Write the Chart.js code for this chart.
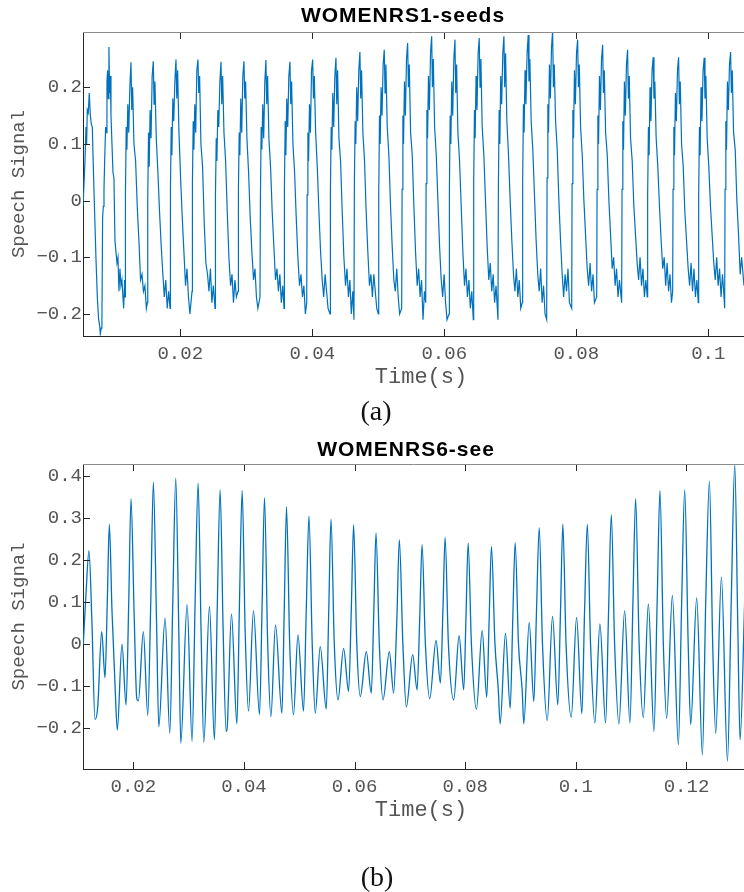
<!DOCTYPE html>
<html>
<head>
<meta charset="utf-8">
<script src="https://cdn.jsdelivr.net/npm/chart.js@4.4.1/dist/chart.umd.min.js"></script>
<style>
  body { margin: 0; background: #fff; }
  #page { position: relative; width: 744px; height: 892px; overflow: hidden; }
  canvas { position: absolute; left: 0; }
  #chartA { top: 0; }
  #chartB { top: 420px; }
  .caption { position: absolute; font-family: "Liberation Serif", "DejaVu Serif", serif; font-size: 28px; color: #111; transform: translate(-50%, -50%); }
</style>
</head>
<body>
<div id="page">
  <canvas id="chartA" width="744" height="420"></canvas>
  <canvas id="chartB" width="744" height="472"></canvas>
  <div class="caption" style="left:376px; top:411px;">(a)</div>
  <div class="caption" style="left:377px; top:877px;">(b)</div>
</div>
<script>
// WOMENRS1-seeds: time (s) and signal samples
const timeA = [
  0.00527, 0.00556, 0.00571, 0.00581, 0.00591, 0.00606, 0.00621, 0.00637, 0.00652, 0.00667, 0.00682, 0.00702, 0.00722, 0.00743, 0.00763, 0.00778, 0.00788, 0.00803, 0.00813,
  0.00823, 0.00834, 0.00844, 0.00854, 0.00869, 0.00879, 0.00889, 0.00899, 0.00909, 0.00919, 0.00929, 0.0094, 0.0095, 0.00965, 0.0098, 0.00995, 0.0101, 0.01025, 0.01041, 0.01056, 0.01071, 0.01086, 0.01101, 0.01116, 0.01131, 0.01142, 0.01157,
  0.01163, 0.01169, 0.01181, 0.01191, 0.01205, 0.01219, 0.01236, 0.01253, 0.01265, 0.01278, 0.01298, 0.01323, 0.01348, 0.01373, 0.01398, 0.0142, 0.01442, 0.01464, 0.01486,
  0.01501, 0.01507, 0.01519, 0.01529, 0.01543, 0.01557, 0.01574, 0.01591, 0.01603, 0.01616, 0.01636, 0.01661, 0.01686, 0.01711, 0.01736, 0.01758, 0.0178, 0.01802, 0.01824,
  0.01845, 0.01851, 0.01863, 0.01873, 0.01887, 0.01901, 0.01918, 0.01935, 0.01947, 0.0196, 0.0198, 0.02005, 0.0203, 0.02055, 0.0208, 0.02102, 0.02124, 0.02146,
  0.02178, 0.02184, 0.02196, 0.02206, 0.0222, 0.02234, 0.02251, 0.02268, 0.0228, 0.02293, 0.02313, 0.02338, 0.02363, 0.02388, 0.02413, 0.02435, 0.02457, 0.02479, 0.02501,
  0.02527, 0.02533, 0.02545, 0.02555, 0.02569, 0.02583, 0.026, 0.02617, 0.02629, 0.02642, 0.02662, 0.02687, 0.02712, 0.02737, 0.02762, 0.02784, 0.02806, 0.02828, 0.0285,
  0.02875, 0.02881, 0.02893, 0.02903, 0.02917, 0.02931, 0.02948, 0.02965, 0.02977, 0.0299, 0.0301, 0.03035, 0.0306, 0.03085, 0.0311, 0.03132, 0.03154, 0.03176,
  0.03208, 0.03214, 0.03226, 0.03236, 0.0325, 0.03264, 0.03281, 0.03298, 0.0331, 0.03323, 0.03343, 0.03368, 0.03393, 0.03418, 0.03443, 0.03465, 0.03487, 0.03509, 0.03531, 0.03553,
  0.03572, 0.03578, 0.0359, 0.036, 0.03614, 0.03628, 0.03645, 0.03662, 0.03674, 0.03687, 0.03707, 0.03732, 0.03757, 0.03782, 0.03807, 0.03829, 0.03851, 0.03873, 0.03895,
  0.03916, 0.03922, 0.03934, 0.03944, 0.03958, 0.03972, 0.03989, 0.04006, 0.04018, 0.04031, 0.04051, 0.04076, 0.04101, 0.04126, 0.04151, 0.04173, 0.04195, 0.04217, 0.04239,
  0.04269, 0.04275, 0.04287, 0.04297, 0.04311, 0.04325, 0.04342, 0.04359, 0.04371, 0.04384, 0.04404, 0.04429, 0.04454, 0.04479, 0.04504, 0.04526, 0.04548, 0.0457, 0.04592, 0.04614,
  0.04632, 0.04638, 0.0465, 0.0466, 0.04674, 0.04688, 0.04705, 0.04722, 0.04734, 0.04747, 0.04767, 0.04792, 0.04817, 0.04842, 0.04867, 0.04889, 0.04911, 0.04933, 0.04955, 0.04977,
  0.05001, 0.05007, 0.05019, 0.05029, 0.05043, 0.05057, 0.05074, 0.05091, 0.05103, 0.05116, 0.05136, 0.05161, 0.05186, 0.05211, 0.05236, 0.05258, 0.0528, 0.05302, 0.05324,
  0.05355, 0.05361, 0.05373, 0.05383, 0.05397, 0.05411, 0.05428, 0.05445, 0.05457, 0.0547, 0.0549, 0.05515, 0.0554, 0.05565, 0.0559, 0.05612, 0.05634, 0.05656, 0.05678, 0.057,
  0.05719, 0.05725, 0.05737, 0.05747, 0.05761, 0.05775, 0.05792, 0.05809, 0.05821, 0.05834, 0.05854, 0.05879, 0.05904, 0.05929, 0.05954, 0.05976, 0.05998, 0.0602, 0.06042,
  0.06072, 0.06078, 0.0609, 0.061, 0.06114, 0.06128, 0.06145, 0.06162, 0.06174, 0.06187, 0.06207, 0.06232, 0.06257, 0.06282, 0.06307, 0.06329, 0.06351, 0.06373, 0.06395, 0.06417,
  0.0644, 0.06446, 0.06458, 0.06468, 0.06482, 0.06496, 0.06513, 0.0653, 0.06542, 0.06555, 0.06575, 0.066, 0.06625, 0.0665, 0.06675, 0.06697, 0.06719, 0.06741, 0.06763, 0.06785,
  0.06814, 0.0682, 0.06832, 0.06842, 0.06856, 0.0687, 0.06887, 0.06904, 0.06916, 0.06929, 0.06949, 0.06974, 0.06999, 0.07024, 0.07049, 0.07071, 0.07093, 0.07115, 0.07137, 0.07159,
  0.07182, 0.07188, 0.072, 0.0721, 0.07224, 0.07238, 0.07255, 0.07272, 0.07284, 0.07297, 0.07317, 0.07342, 0.07367, 0.07392, 0.07417, 0.07439, 0.07461, 0.07483, 0.07505, 0.07527,
  0.07552, 0.07558, 0.0757, 0.0758, 0.07594, 0.07608, 0.07625, 0.07642, 0.07654, 0.07667, 0.07687, 0.07712, 0.07737, 0.07762, 0.07787, 0.07809, 0.07831, 0.07853, 0.07875, 0.07897,
  0.07931, 0.07937, 0.07949, 0.07959, 0.07973, 0.07987, 0.08004, 0.08021, 0.08033, 0.08046, 0.08066, 0.08091, 0.08116, 0.08141, 0.08166, 0.08188, 0.0821, 0.08232, 0.08254, 0.08276,
  0.0831, 0.08316, 0.08328, 0.08338, 0.08352, 0.08366, 0.08383, 0.084, 0.08412, 0.08425, 0.08445, 0.0847, 0.08495, 0.0852, 0.08545, 0.08567, 0.08589, 0.08611, 0.08633, 0.08655,
  0.08688, 0.08694, 0.08706, 0.08716, 0.0873, 0.08744, 0.08761, 0.08778, 0.0879, 0.08803, 0.08823, 0.08848, 0.08873, 0.08898, 0.08923, 0.08945, 0.08967, 0.08989, 0.09011, 0.09033, 0.09055,
  0.09076, 0.09082, 0.09094, 0.09104, 0.09118, 0.09132, 0.09149, 0.09166, 0.09178, 0.09191, 0.09211, 0.09236, 0.09261, 0.09286, 0.09311, 0.09333, 0.09355, 0.09377, 0.09399, 0.09421, 0.09443,
  0.09461, 0.09467, 0.09479, 0.09489, 0.09503, 0.09517, 0.09534, 0.09551, 0.09563, 0.09576, 0.09596, 0.09621, 0.09646, 0.09671, 0.09696, 0.09718, 0.0974, 0.09762, 0.09784, 0.09806, 0.09828,
  0.09849, 0.09855, 0.09867, 0.09877, 0.09891, 0.09905, 0.09922, 0.09939, 0.09951, 0.09964, 0.09984, 0.10009, 0.10034, 0.10059, 0.10084, 0.10106, 0.10128, 0.1015, 0.10172, 0.10194, 0.10216, 0.10234,
  0.10249, 0.10255, 0.10267, 0.10277, 0.10291, 0.10305, 0.10322, 0.10339, 0.10351, 0.10364, 0.10384, 0.10409, 0.10434, 0.10459, 0.10484, 0.10506, 0.10542
];
const speechA = [
  -0.01, 0.07, 0.13, 0.10, 0.16, 0.155, 0.19, 0.15, 0.135, 0.13, 0.06, -0.02, -0.10, -0.17, -0.21, -0.22, -0.235, -0.225, -0.21,
  -0.03, -0.01, 0.02, 0.07, 0.13, 0.12, 0.21, 0.23, 0.18, 0.271, 0.19, 0.22, 0.15, 0.10, 0.05, 0.04, -0.07, -0.09, -0.11, -0.10, -0.16, -0.12, -0.15, -0.14, -0.17, -0.19, -0.14,
  -0.17, 0.01, 0.13, 0.09, 0.17, 0.12, 0.20, 0.244, 0.16, 0.20, 0.10, 0.07, -0.01, -0.07, -0.14, -0.13, -0.16, -0.15, -0.19,
  -0.18, 0.00, 0.12, 0.06, 0.16, 0.11, 0.22, 0.246, 0.17, 0.21, 0.11, 0.05, -0.02, -0.08, -0.13, -0.17, -0.14, -0.19, -0.16,
  -0.19, 0.02, 0.13, 0.08, 0.18, 0.14, 0.21, 0.249, 0.18, 0.23, 0.12, 0.04, -0.03, -0.09, -0.15, -0.12, -0.17, -0.20,
  -0.16, 0.03, 0.14, 0.09, 0.17, 0.12, 0.23, 0.249, 0.19, 0.22, 0.10, 0.06, -0.04, -0.11, -0.13, -0.16, -0.12, -0.18, -0.15,
  -0.19, 0.01, 0.11, 0.07, 0.16, 0.13, 0.21, 0.245, 0.17, 0.22, 0.12, 0.07, -0.02, -0.10, -0.15, -0.13, -0.18, -0.14, -0.17,
  -0.16, 0.02, 0.12, 0.08, 0.18, 0.12, 0.22, 0.246, 0.18, 0.21, 0.11, 0.05, -0.03, -0.09, -0.14, -0.12, -0.17, -0.19,
  -0.17, 0.00, 0.13, 0.09, 0.17, 0.11, 0.21, 0.248, 0.17, 0.22, 0.11, 0.06, -0.02, -0.08, -0.14, -0.12, -0.16, -0.13, -0.18, -0.15,
  -0.19, 0.02, 0.14, 0.08, 0.18, 0.13, 0.22, 0.245, 0.17, 0.21, 0.10, 0.05, -0.03, -0.10, -0.15, -0.13, -0.17, -0.15, -0.20,
  -0.18, 0.01, 0.12, 0.07, 0.17, 0.12, 0.23, 0.249, 0.18, 0.22, 0.12, 0.06, -0.02, -0.09, -0.14, -0.17, -0.13, -0.16, -0.19,
  -0.20, 0.02, 0.13, 0.09, 0.19, 0.13, 0.22, 0.252, 0.17, 0.23, 0.11, 0.07, -0.02, -0.10, -0.15, -0.12, -0.17, -0.14, -0.20, -0.16,
  -0.21, 0.03, 0.14, 0.10, 0.20, 0.14, 0.23, 0.262, 0.18, 0.23, 0.12, 0.07, -0.02, -0.09, -0.15, -0.13, -0.17, -0.13, -0.16, -0.19,
  -0.20, 0.01, 0.15, 0.10, 0.20, 0.15, 0.24, 0.266, 0.19, 0.24, 0.13, 0.08, -0.01, -0.08, -0.14, -0.16, -0.12, -0.17, -0.20,
  -0.19, 0.02, 0.15, 0.10, 0.21, 0.15, 0.25, 0.278, 0.20, 0.24, 0.12, 0.08, -0.01, -0.09, -0.15, -0.12, -0.17, -0.14, -0.21, -0.16,
  -0.18, 0.03, 0.16, 0.11, 0.22, 0.16, 0.26, 0.290, 0.20, 0.25, 0.13, 0.08, 0.00, -0.08, -0.14, -0.17, -0.13, -0.18, -0.21,
  -0.20, 0.02, 0.15, 0.10, 0.21, 0.15, 0.25, 0.284, 0.19, 0.24, 0.12, 0.07, -0.01, -0.09, -0.15, -0.12, -0.17, -0.14, -0.19, -0.16,
  -0.21, 0.03, 0.16, 0.11, 0.22, 0.16, 0.26, 0.287, 0.20, 0.25, 0.13, 0.08, 0.00, -0.08, -0.14, -0.11, -0.16, -0.13, -0.18, -0.15,
  -0.21, 0.02, 0.16, 0.10, 0.22, 0.17, 0.26, 0.290, 0.20, 0.26, 0.14, 0.08, 0.00, -0.07, -0.13, -0.16, -0.12, -0.17, -0.14, -0.19,
  -0.18, 0.03, 0.17, 0.12, 0.23, 0.17, 0.26, 0.292, 0.21, 0.25, 0.14, 0.09, 0.01, -0.07, -0.13, -0.16, -0.12, -0.18, -0.15, -0.20,
  -0.21, 0.04, 0.17, 0.12, 0.24, 0.18, 0.27, 0.299, 0.20, 0.24, 0.14, 0.09, 0.00, -0.07, -0.13, -0.17, -0.13, -0.16, -0.12, -0.18,
  -0.19, 0.03, 0.16, 0.11, 0.23, 0.17, 0.26, 0.284, 0.20, 0.24, 0.13, 0.08, 0.00, -0.06, -0.12, -0.15, -0.11, -0.16, -0.13, -0.18,
  -0.17, 0.02, 0.15, 0.10, 0.22, 0.16, 0.25, 0.275, 0.19, 0.23, 0.12, 0.08, 0.00, -0.06, -0.12, -0.10, -0.15, -0.12, -0.17, -0.14,
  -0.18, 0.02, 0.14, 0.09, 0.21, 0.15, 0.24, 0.266, 0.18, 0.22, 0.11, 0.07, -0.01, -0.06, -0.11, -0.14, -0.10, -0.15, -0.12, -0.17, -0.14,
  -0.17, 0.01, 0.13, 0.08, 0.20, 0.14, 0.23, 0.253, 0.18, 0.21, 0.11, 0.06, -0.01, -0.07, -0.12, -0.10, -0.15, -0.11, -0.16, -0.13, -0.18,
  -0.16, 0.02, 0.13, 0.08, 0.19, 0.14, 0.23, 0.253, 0.17, 0.21, 0.10, 0.06, -0.02, -0.07, -0.12, -0.15, -0.11, -0.16, -0.12, -0.17, -0.14,
  -0.18, 0.01, 0.13, 0.08, 0.20, 0.14, 0.23, 0.252, 0.18, 0.22, 0.11, 0.06, -0.01, -0.06, -0.11, -0.14, -0.10, -0.15, -0.12, -0.17, -0.13, -0.16,
  -0.19, 0.02, 0.14, 0.09, 0.21, 0.16, 0.24, 0.262, 0.19, 0.23, 0.12, 0.09, 0.00, -0.06, -0.13, -0.10, -0.15
];

// WOMENRS6-see: time (s) and signal samples
const timeB = [
  0.01095, 0.01144, 0.01198, 0.01252, 0.01307, 0.01356, 0.01428, 0.01488,
  0.01529, 0.01566, 0.01614, 0.01669, 0.0171, 0.01795, 0.01868,
  0.01917, 0.01958, 0.02013, 0.02062, 0.02091, 0.02181, 0.02261,
  0.02315, 0.02362, 0.0242, 0.0246, 0.02574, 0.02659,
  0.02713, 0.02767, 0.02822, 0.02858, 0.02972, 0.03062,
  0.03117, 0.03171, 0.03225, 0.03274, 0.03376, 0.03466,
  0.03519, 0.03569, 0.03624, 0.03678, 0.03696, 0.03774, 0.03872,
  0.03919, 0.03967, 0.04022, 0.04082, 0.04172, 0.04281,
  0.04329, 0.04371, 0.04429, 0.04487, 0.0457, 0.04686,
  0.04728, 0.04769, 0.04827, 0.04896, 0.04976, 0.05077,
  0.05126, 0.05175, 0.05234, 0.05289, 0.05379, 0.05488,
  0.05533, 0.05573, 0.05633, 0.057, 0.05801, 0.05892,
  0.0594, 0.05982, 0.0604, 0.06103, 0.06212, 0.06302,
  0.06348, 0.06387, 0.06447, 0.06514, 0.06628, 0.06706,
  0.06764, 0.06809, 0.06873, 0.06936, 0.0705, 0.0713,
  0.07177, 0.0722, 0.0728, 0.07358, 0.07473, 0.07551,
  0.07597, 0.07636, 0.07696, 0.07792, 0.0789, 0.07973,
  0.08013, 0.08053, 0.08112, 0.08203, 0.08306, 0.08389,
  0.08433, 0.08474, 0.08538, 0.08596, 0.08632, 0.08728, 0.08813,
  0.0886, 0.08903, 0.08963, 0.0903, 0.09059, 0.09157, 0.0924,
  0.09289, 0.09338, 0.09397, 0.09483, 0.09578, 0.09674,
  0.09723, 0.09765, 0.09823, 0.09917, 0.10013, 0.10109,
  0.10158, 0.10207, 0.10266, 0.10344, 0.10435, 0.10538,
  0.10592, 0.10641, 0.10701, 0.10779, 0.10882, 0.10978,
  0.11032, 0.11081, 0.11144, 0.1122, 0.11311, 0.11412,
  0.1147, 0.11521, 0.11582, 0.11642, 0.11745, 0.11854,
  0.11913, 0.11968, 0.12031, 0.12076, 0.12185, 0.12288,
  0.12348, 0.12415, 0.12474, 0.12529, 0.12632, 0.12741,
  0.12809, 0.12873, 0.12927, 0.12969, 0.13054
];
const speechB = [
  0.0, 0.12, 0.223, 0.05, -0.18, -0.15, 0.03, -0.08,
  0.1, 0.286, 0.08, -0.097, -0.205, 0.0, -0.145,
  0.1, 0.347, 0.08, -0.13, -0.135, 0.03, -0.17,
  0.1, 0.386, 0.05, -0.197, 0.062, -0.213,
  0.1, 0.395, 0.03, -0.236, 0.094, -0.232,
  0.1, 0.384, 0.03, -0.234, 0.09, -0.228,
  0.1, 0.367, 0.03, -0.208, -0.2, 0.072, -0.19,
  0.1, 0.366, 0.03, -0.16, 0.08, -0.168,
  0.1, 0.349, 0.0, -0.173, 0.046, -0.165,
  0.08, 0.327, 0.0, -0.168, 0.022, -0.16,
  0.08, 0.305, 0.0, -0.165, -0.006, -0.155,
  0.08, 0.298, 0.0, -0.133, -0.01, -0.113,
  0.08, 0.285, 0.0, -0.125, -0.018, -0.117,
  0.08, 0.265, 0.0, -0.133, -0.018, -0.117,
  0.06, 0.249, 0.0, -0.15, -0.025, -0.109,
  0.06, 0.237, 0.0, -0.13, 0.009, -0.093,
  0.08, 0.255, 0.0, -0.133, 0.02, -0.109,
  0.06, 0.241, 0.0, -0.155, 0.032, -0.127,
  0.06, 0.233, 0.0, -0.105, -0.19, 0.026, -0.153,
  0.06, 0.242, 0.0, -0.11, -0.19, 0.052, -0.137,
  0.08, 0.278, 0.0, -0.182, 0.066, -0.145,
  0.08, 0.286, 0.0, -0.174, 0.064, -0.166,
  0.08, 0.286, 0.0, -0.188, 0.048, -0.188,
  0.08, 0.309, 0.0, -0.19, 0.08, -0.188,
  0.1, 0.347, 0.0, -0.175, 0.096, -0.208,
  0.1, 0.366, 0.0, -0.177, 0.116, -0.24,
  0.1, 0.368, 0.0, -0.192, 0.11, -0.264,
  0.1, 0.388, 0.0, -0.213, 0.16, -0.279,
  0.1, 0.428, 0.05, -0.228, 0.11
];

const xTicksA = [0.02, 0.04, 0.06, 0.08, 0.1];
const xTickLabelsA = ['0.02', '0.04', '0.06', '0.08', '0.1'];
const yTicksA = [-0.2, -0.1, 0, 0.1, 0.2];
const yTickLabelsA = ['\u22120.2', '\u22120.1', '0', '0.1', '0.2'];

const xTicksB = [0.02, 0.04, 0.06, 0.08, 0.1, 0.12];
const xTickLabelsB = ['0.02', '0.04', '0.06', '0.08', '0.1', '0.12'];
const yTicksB = [-0.2, -0.1, 0, 0.1, 0.2, 0.3, 0.4];
const yTickLabelsB = ['\u22120.2', '\u22120.1', '0', '0.1', '0.2', '0.3', '0.4'];

const LINE_BLUE = '#0072BD';
const AXIS_GREY = '#262626';
const LABEL_GREY = '#555555';
const MONO = '"Liberation Mono", "DejaVu Sans Mono", monospace';

// inward tick marks, top edge of the box, bold panel title and the x label
const boxAndTitle = {
  id: 'boxAndTitle',
  afterDatasetsDraw(chart, args, opts) {
    const {ctx, chartArea: a, scales: {x, y}} = chart;
    ctx.save();
    ctx.lineWidth = 1;
    ctx.strokeStyle = AXIS_GREY;
    ctx.beginPath();
    x.ticks.forEach(t => {
      const px = Math.round(x.getPixelForValue(t.value)) + 0.5;
      ctx.moveTo(px, a.bottom);
      ctx.lineTo(px, a.bottom - 7);
      ctx.moveTo(px, a.top);
      ctx.lineTo(px, a.top + 7);
    });
    y.ticks.forEach(t => {
      const py = Math.round(y.getPixelForValue(t.value)) + 0.5;
      ctx.moveTo(a.left, py);
      ctx.lineTo(a.left + 7, py);
    });
    ctx.stroke();
    ctx.strokeStyle = '#8a8a8a';
    ctx.beginPath();
    ctx.moveTo(a.left, Math.round(a.top) + 0.5);
    ctx.lineTo(a.right, Math.round(a.top) + 0.5);
    ctx.stroke();

    ctx.textAlign = 'center';
    ctx.textBaseline = 'middle';
    ctx.fillStyle = '#000';
    ctx.font = 'bold 21px "Liberation Sans", Arial, sans-serif';
    ctx.letterSpacing = '1px';
    ctx.fillText(opts.text, opts.x, opts.y);
    ctx.letterSpacing = '0px';

    ctx.fillStyle = LABEL_GREY;
    ctx.font = '22px ' + MONO;
    ctx.fillText('Time(s)', opts.xLabelX, opts.xLabelY);
    ctx.restore();
  }
};

function makeChart(id, times, values, cfg) {
  const points = times.map((t, i) => ({x: t, y: values[i]}));
  return new Chart(document.getElementById(id), {
    type: 'line',
    data: {
      datasets: [{
        data: points,
        borderColor: LINE_BLUE,
        borderWidth: cfg.lineWidth,
        pointRadius: 0,
        tension: cfg.smooth ? 0.4 : 0,
        cubicInterpolationMode: cfg.smooth ? 'monotone' : 'default',
        fill: false
      }]
    },
    options: {
      responsive: false,
      animation: false,
      devicePixelRatio: 1,
      layout: {padding: {top: cfg.top, left: 0, right: 0, bottom: 0}},
      plugins: {
        legend: {display: false},
        tooltip: {enabled: false},
        boxAndTitle: {
          text: cfg.title, x: cfg.titleX, y: cfg.titleY,
          xLabelX: 421, xLabelY: cfg.xLabelY
        }
      },
      scales: {
        x: {
          type: 'linear',
          min: cfg.xMin,
          max: cfg.xMax,
          afterBuildTicks: s => { s.ticks = cfg.xTicks.map(v => ({value: v})); },
          afterFit: s => { s.height = cfg.xAxisHeight; },
          grid: {display: false, drawTicks: false},
          border: {display: true, color: AXIS_GREY, width: 1},
          ticks: {
            autoSkip: false,
            maxRotation: 0,
            padding: cfg.xTickPad,
            color: LABEL_GREY,
            font: {family: MONO, size: 19},
            callback: (v, i) => cfg.xLabels[i]
          }
        },
        y: {
          min: cfg.yMin,
          max: cfg.yMax,
          afterBuildTicks: s => { s.ticks = cfg.yTicks.map(v => ({value: v})); },
          afterFit: s => { s.width = 83; },
          grid: {display: false, drawTicks: false},
          border: {display: true, color: AXIS_GREY, width: 1},
          ticks: {
            padding: 1,
            color: LABEL_GREY,
            font: {family: MONO, size: 19},
            callback: (v, i) => cfg.yLabels[i]
          },
          title: {
            display: true,
            text: 'Speech Signal',
            color: LABEL_GREY,
            font: {family: MONO, size: 19},
            padding: {top: 8, bottom: 0}
          }
        }
      }
    },
    plugins: [boxAndTitle]
  });
}

makeChart('chartA', timeA, speechA, {
  title: 'WOMENRS1-seeds', titleX: 403, titleY: 16,
  top: 32, xAxisHeight: 84, xTickPad: 7, xLabelY: 377,
  xMin: 0.00526, xMax: 0.10542, yMin: -0.2388, yMax: 0.2975,
  xTicks: xTicksA, xLabels: xTickLabelsA, yTicks: yTicksA, yLabels: yTickLabelsA,
  smooth: false, lineWidth: 1.2
});

makeChart('chartB', timeB, speechB, {
  title: 'WOMENRS6-see', titleX: 406, titleY: 30,
  top: 44, xAxisHeight: 123, xTickPad: 7, xLabelY: 390,
  xMin: 0.0109, xMax: 0.1304, yMin: -0.2978, yMax: 0.4296,
  xTicks: xTicksB, xLabels: xTickLabelsB, yTicks: yTicksB, yLabels: yTickLabelsB,
  smooth: true, lineWidth: 1.3
});
</script>
</body>
</html>
